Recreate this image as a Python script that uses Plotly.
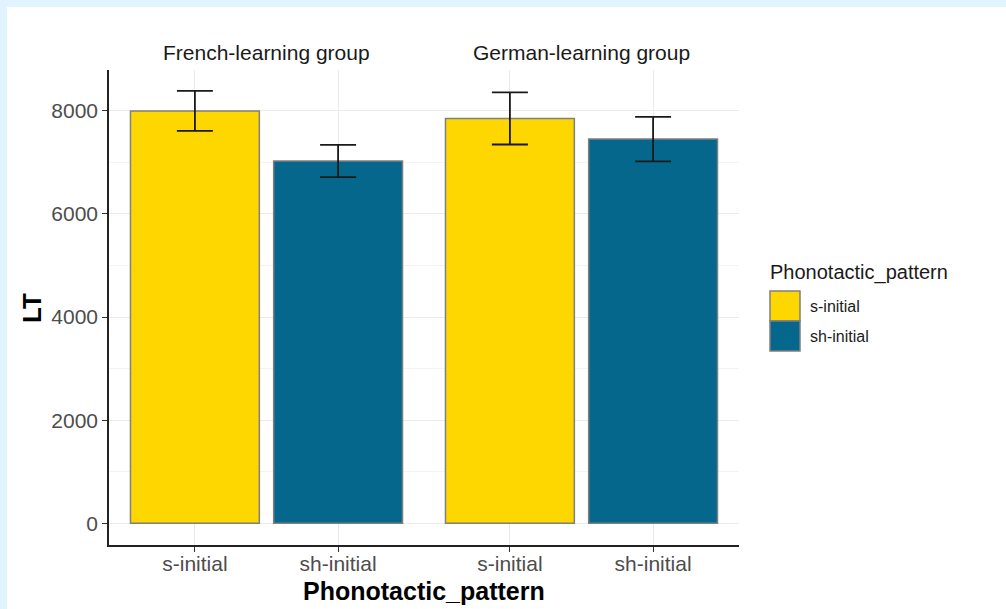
import plotly.graph_objects as go

# ---- data ----
groups = ["French-learning group", "German-learning group"]
patterns = ["s-initial", "sh-initial"]
lt_french = [7995, 7025]
se_french = [388, 312]
lt_german = [7850, 7450]
se_german = [505, 432]

pattern_colors = ["#FFD700", "#05678C"]

W, H = 1006, 609


def px(x):
    return x / W


def py(y):
    return 1 - y / H


fig = go.Figure()

for i, (vals, errs) in enumerate([(lt_french, se_french), (lt_german, se_german)]):
    fig.add_trace(go.Bar(
        x=patterns, y=vals, width=0.9,
        xaxis="x" if i == 0 else "x2", yaxis="y",
        marker=dict(color=pattern_colors, line=dict(color="#7F7F7F", width=1.5)),
        error_y=dict(type="data", array=errs, color="#1A1A1A", thickness=1.8, width=18),
        showlegend=False, name=groups[i],
    ))

axis_common = dict(
    range=[-0.6, 1.6], showgrid=True, gridcolor="#EBEBEB", gridwidth=1.1,
    showline=True, linecolor="#222222", linewidth=1.6,
    ticks="outside", ticklen=5, tickcolor="#333333", tickwidth=1.1,
    ticklabelstandoff=-6,
    tickfont=dict(family="Liberation Sans, Arial", size=21, color="#4D4D4D"),
    zeroline=False, anchor="y", fixedrange=True,
)

fig.update_layout(
    width=W, height=H,
    margin=dict(l=0, r=0, t=0, b=0),
    paper_bgcolor="white", plot_bgcolor="white",
    bargap=0.1,
    xaxis=dict(domain=[px(109), px(424)], **axis_common),
    xaxis2=dict(domain=[px(424), px(739)], **axis_common),
    yaxis=dict(
        domain=[py(545), py(70)], range=[-420.7, 8789], anchor="x",
        tick0=0, dtick=2000, showgrid=True, gridcolor="#EBEBEB", gridwidth=1.1,
        minor=dict(dtick=1000, tick0=0, showgrid=True, gridcolor="#F3F3F3", gridwidth=0.7),
        showline=True, linecolor="#222222", linewidth=1.6,
        ticks="outside", ticklen=5, tickcolor="#333333", tickwidth=1.1,
        tickfont=dict(family="Liberation Sans, Arial", size=21, color="#4D4D4D"),
        zeroline=False, fixedrange=True,
    ),
)

shapes = []
# light blue frame at top and left
shapes.append(dict(type="rect", xref="paper", yref="paper", x0=0, x1=1, y0=py(7), y1=1,
                   fillcolor="#E1F3FC", line=dict(width=0), layer="below"))
shapes.append(dict(type="rect", xref="paper", yref="paper", x0=0, x1=px(7), y0=0, y1=1,
                   fillcolor="#E1F3FC", line=dict(width=0), layer="below"))
# legend keys
key_tops = [291, 321]
for c, top in zip(pattern_colors, key_tops):
    shapes.append(dict(type="rect", xref="paper", yref="paper",
                       x0=px(770), x1=px(800), y0=py(top + 30), y1=py(top),
                       fillcolor=c, line=dict(color="#7F7F7F", width=1.5)))

annotations = []
# facet strip titles
for g, cx in zip(groups, [266.5, 581.5]):
    annotations.append(dict(text=g, x=px(cx), y=py(52), xref="paper", yref="paper",
                            xanchor="center", yanchor="middle", showarrow=False,
                            font=dict(family="Liberation Sans, Arial", size=21, color="#1A1A1A")))
# axis titles
annotations.append(dict(text="<b>Phonotactic_pattern</b>", x=px(424), y=py(591), xref="paper", yref="paper",
                        xanchor="center", yanchor="middle", showarrow=False,
                        font=dict(family="Liberation Sans, Arial", size=25, color="black")))
annotations.append(dict(text="<b>LT</b>", x=px(32), y=py(308), xref="paper", yref="paper",
                        xanchor="center", yanchor="middle", showarrow=False, textangle=-90,
                        font=dict(family="Liberation Sans, Arial", size=26, color="black")))
# legend
annotations.append(dict(text="Phonotactic_pattern", x=px(768), y=py(272), xref="paper", yref="paper",
                        xanchor="left", yanchor="middle", showarrow=False,
                        font=dict(family="Liberation Sans, Arial", size=20, color="#1A1A1A")))
for p, top in zip(patterns, key_tops):
    annotations.append(dict(text=p, x=px(808), y=py(top + 15), xref="paper", yref="paper",
                            xanchor="left", yanchor="middle", showarrow=False,
                            font=dict(family="Liberation Sans, Arial", size=16, color="#1A1A1A")))

fig.update_layout(shapes=shapes, annotations=annotations)

fig.write_html("out.html")
